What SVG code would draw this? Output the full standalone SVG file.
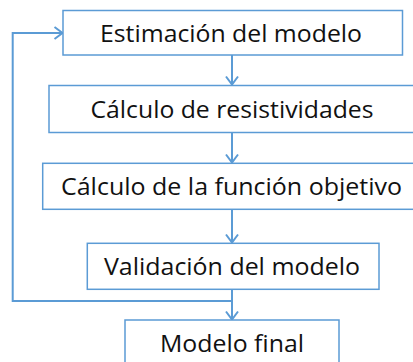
<svg xmlns="http://www.w3.org/2000/svg" width="413" height="362" viewBox="0 0 413 362">
<defs>
<style>
.box{fill:#ffffff;stroke:#5b9bd5;stroke-width:1.5}
.lbl{font-family:"Open Sans","Noto Sans",sans-serif;font-size:23px;fill:#111111;text-anchor:middle}
.con{fill:none;stroke:#5b9bd5;stroke-width:2}
</style>
<marker id="arr" markerWidth="12" markerHeight="14" refX="10" refY="7" orient="auto" markerUnits="userSpaceOnUse">
<path d="M2,1 L10,7 L2,13" fill="none" stroke="#5b9bd5" stroke-width="2"/>
</marker>
</defs>
<rect width="413" height="362" fill="#ffffff"/>
<g id="connectors">
<line class="con" x1="232" y1="55" x2="232" y2="84.5" marker-end="url(#arr)"/>
<line class="con" x1="232" y1="132.5" x2="232" y2="162.5" marker-end="url(#arr)"/>
<line class="con" x1="232" y1="209.5" x2="232" y2="242.5" marker-end="url(#arr)"/>
<line class="con" x1="232" y1="289.5" x2="232" y2="319.5" marker-end="url(#arr)"/>
<polyline class="con" points="232,301 12.7,301 12.7,33 62.5,33" marker-end="url(#arr)"/>
</g>
<g id="n1">
<rect class="box" x="63" y="10.5" width="339.5" height="44.5"/>
<text class="lbl" x="231" y="41.7" textLength="262" lengthAdjust="spacingAndGlyphs">Estimación del modelo</text>
</g>
<g id="n2">
<rect class="box" x="49" y="85.5" width="380" height="47"/>
<text class="lbl" x="232" y="118.3" textLength="283" lengthAdjust="spacingAndGlyphs">Cálculo de resistividades</text>
</g>
<g id="n3">
<rect class="box" x="42.7" y="163.3" width="380" height="46"/>
<text class="lbl" x="231.5" y="195" textLength="341" lengthAdjust="spacingAndGlyphs">Cálculo de la función objetivo</text>
</g>
<g id="n4">
<rect class="box" x="87.3" y="243.3" width="291.7" height="46"/>
<text class="lbl" x="232" y="275" textLength="256" lengthAdjust="spacingAndGlyphs">Validación del modelo</text>
</g>
<g id="n5">
<rect class="box" x="125" y="320" width="214" height="50"/>
<text class="lbl" x="232" y="351.7" textLength="144" lengthAdjust="spacingAndGlyphs">Modelo final</text>
</g>
</svg>
